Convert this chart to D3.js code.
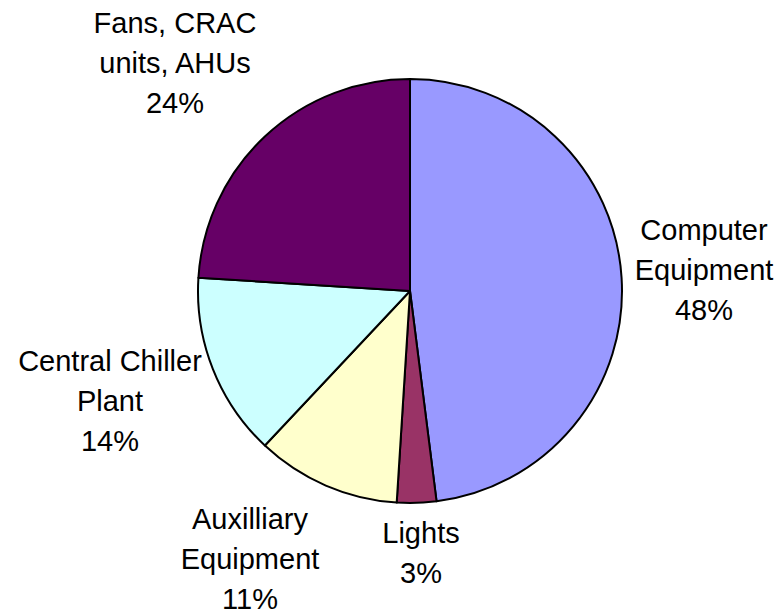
<!DOCTYPE html>
<html>
<head>
<meta charset="utf-8">
<script src="https://cdn.jsdelivr.net/npm/d3@7"></script>
<style>
  html, body { margin: 0; padding: 0; background: #fff; }
  svg { display: block; }
  text { font-family: "Liberation Sans", Arial, sans-serif; fill: #000; }
</style>
</head>
<body>
<svg id="chart" width="784" height="610"></svg>
<script>
// Data-centre power breakdown
const categories = ["Computer Equipment", "Lights", "Auxilliary Equipment", "Central Chiller Plant", "Fans, CRAC units, AHUs"];
const shares = [48, 3, 11, 14, 24];
const colors = ["#9999FF", "#993366", "#FFFFCC", "#CCFFFF", "#660066"];
// Label text split into lines
const labelLines = [
  ["Computer", "Equipment"],
  ["Lights"],
  ["Auxilliary", "Equipment"],
  ["Central Chiller", "Plant"],
  ["Fans, CRAC", "units, AHUs"]
];

// Layout
const W = 784, H = 610;
const cx = 410, cy = 291, R = 212;
const fontSize = 29, lineH = 40;
// Baseline of first line and horizontal centre for each label block
const labelAnchors = [
  { x: 704, y: 240 },
  { x: 421, y: 543 },
  { x: 250, y: 529 },
  { x: 110, y: 371 },
  { x: 175, y: 33 }
];

const svg = d3.select("#chart");
const g = svg.append("g").attr("transform", `translate(${cx},${cy})`);

const pie = d3.pie().sort(null).value(d => d)(shares);
const arc = d3.arc().innerRadius(0).outerRadius(R);

g.selectAll("path.slice")
  .data(pie)
  .join("path")
  .attr("class", "slice")
  .attr("d", arc)
  .attr("fill", (d, i) => colors[i])
  .attr("stroke", "#000")
  .attr("stroke-width", 2)
  .attr("stroke-linejoin", "round");

const labels = svg.selectAll("text.lbl")
  .data(pie)
  .join("text")
  .attr("class", "lbl")
  .attr("text-anchor", "middle")
  .attr("font-size", fontSize)
  .attr("x", (d, i) => labelAnchors[i].x)
  .attr("y", (d, i) => labelAnchors[i].y);

labels.each(function(d, i) {
  const t = d3.select(this);
  const lines = labelLines[i].concat([d.data + "%"]);
  lines.forEach((s, k) => {
    t.append("tspan")
      .attr("x", labelAnchors[i].x)
      .attr("dy", k === 0 ? 0 : lineH)
      .text(s);
  });
});
</script>
</body>
</html>
